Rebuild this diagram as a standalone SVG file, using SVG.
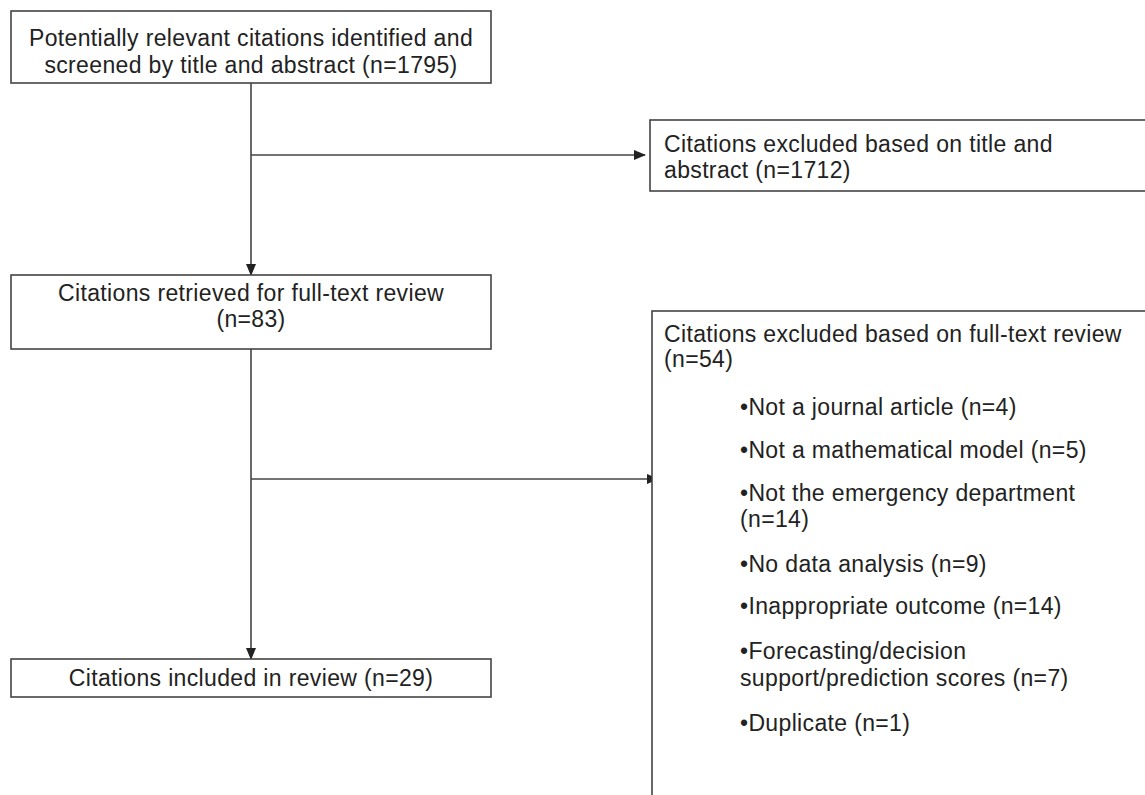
<svg xmlns="http://www.w3.org/2000/svg" width="1145" height="795" viewBox="0 0 1145 795">
<defs>
<style>
.box{fill:#fff;stroke:#444;stroke-width:1.6}
.t{font-family:"Liberation Sans",Arial,sans-serif;font-size:23px;letter-spacing:0.35px;fill:#222}
.c{text-anchor:middle}
.ln{fill:none;stroke:#444;stroke-width:1.6}
</style>
<marker id="ah" markerWidth="12" markerHeight="10" refX="11" refY="5" orient="auto" markerUnits="userSpaceOnUse">
<path d="M0,0 L12,5 L0,10 Z" fill="#222"/>
</marker>
</defs>
<rect width="1145" height="795" fill="#fff"/>
<g id="connectors">
<line class="ln" x1="251" y1="83" x2="251" y2="275" marker-end="url(#ah)"/>
<line class="ln" x1="251" y1="155" x2="645" y2="155" marker-end="url(#ah)"/>
<line class="ln" x1="251" y1="349" x2="251" y2="659" marker-end="url(#ah)"/>
<line class="ln" x1="251" y1="479" x2="658" y2="479" marker-end="url(#ah)"/>
</g>
<g id="n1">
<rect class="box" x="11" y="11" width="480" height="72"/>
<text class="t c" x="251" y="46">Potentially relevant citations identified and</text>
<text class="t c" x="251" y="73">screened by title and abstract (n=1795)</text>
</g>
<g id="n2">
<rect class="box" x="650" y="120" width="520" height="71"/>
<text class="t" x="664" y="152">Citations excluded based on title and</text>
<text class="t" x="664" y="178">abstract (n=1712)</text>
</g>
<g id="n3">
<rect class="box" x="11" y="275" width="480" height="74"/>
<text class="t c" x="251" y="301">Citations retrieved for full-text review</text>
<text class="t c" x="251" y="327">(n=83)</text>
</g>
<g id="n4">
<rect class="box" x="652" y="311" width="520" height="520"/>
<text class="t" x="664" y="342">Citations excluded based on full-text review</text>
<text class="t" x="664" y="367">(n=54)</text>
<text class="t" x="740" y="415">•Not a journal article (n=4)</text>
<text class="t" x="740" y="458">•Not a mathematical model (n=5)</text>
<text class="t" x="740" y="501">•Not the emergency department</text>
<text class="t" x="740" y="527">(n=14)</text>
<text class="t" x="740" y="572">•No data analysis (n=9)</text>
<text class="t" x="740" y="614">•Inappropriate outcome (n=14)</text>
<text class="t" x="740" y="659">•Forecasting/decision</text>
<text class="t" x="740" y="686">support/prediction scores (n=7)</text>
<text class="t" x="740" y="731">•Duplicate (n=1)</text>
</g>
<g id="n5">
<rect class="box" x="11" y="659" width="480" height="38"/>
<text class="t c" x="251" y="686">Citations included in review (n=29)</text>
</g>
</svg>
